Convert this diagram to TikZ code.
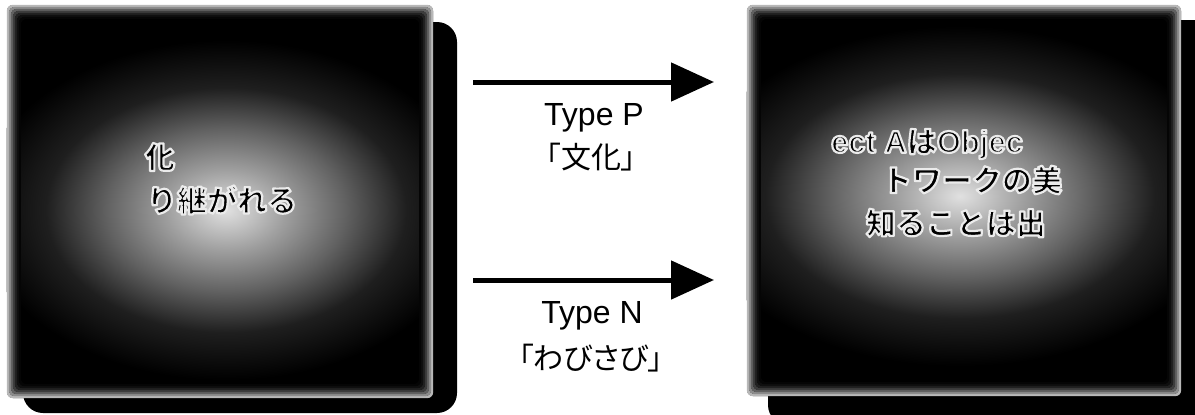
\documentclass[tikz,border=0pt]{standalone}
\usepackage{fontspec}
\setmainfont{Liberation Sans}
\newfontfamily\jp{Noto Sans CJK JP}
\newfontfamily\jpp[RawFeature=+palt]{Noto Sans CJK JP}
\usetikzlibrary{arrows.meta}

% light centre fading to black towards the rim of each panel
\pgfdeclareradialshading{boxglow}{\pgfpoint{0bp}{0bp}}{%
  color(0bp)=(white!88!black); color(6bp)=(white!62!black);
  color(12bp)=(black!62); color(18bp)=(black!88);
  color(25bp)=(black); color(50bp)=(black)}

\tikzset{
  panel/.style={fill=black, rounded corners=6pt, inner sep=0pt},
  panelshadow/.style={fill=black, rounded corners=20pt},
  paneltext/.style={font=\jp\bfseries\fontsize{30pt}{34pt}\selectfont, text=black, inner sep=0pt},
  flow/.style={line width=5pt, -{Triangle[length=43pt,width=38pt]}},
  typelabel/.style={font=\fontsize{32pt}{36pt}\selectfont, anchor=base, inner sep=0pt},
  jplabel/.style={font=\jpp\fontsize{30pt}{34pt}\selectfont, inner sep=0pt},
}

% soft grey rim around a panel node
\newcommand\panelrim[1]{%
  \foreach \d/\c in {0/28,2/45,4/62,6/76,8/87,10/94,12/98}
    \fill[black!\c, even odd rule, rounded corners=6pt]
      ([shift={(\d pt,-\d pt)}]#1.north west) rectangle ([shift={(-\d pt,\d pt)}]#1.south east)
      ([shift={(\d pt+2pt,-\d pt-2pt)}]#1.north west) rectangle ([shift={(-\d pt-2pt,\d pt+2pt)}]#1.south east);}

% dark glyphs traced with a pale outline
\newcommand\haloed[1]{\special{pdf:literal direct 2 Tr 2.2 w 1 j 0.92 0.92 0.92 RG}#1\special{pdf:literal direct 0 Tr}}
\newcommand\latinpart[1]{{\rmfamily\bfseries\fontsize{31pt}{34pt}\selectfont #1}}

\begin{document}
\begin{tikzpicture}[x=1pt, y=-1pt]
\useasboundingbox (0,0) rectangle (1195,415);
\fill[white] (0,0) rectangle (1195,415);

% drop shadows
\fill[panelshadow] (23,22) rectangle (457,413);
\fill[panelshadow] (768,20) rectangle (1215,425);

% left panel
\node[panel, minimum width=426pt, minimum height=393pt] (lbox) at (220,201.5) {};
\begin{scope}
  \clip[rounded corners=6pt] (lbox.north west) rectangle (lbox.south east);
  \fill[shading=boxglow] (226,210) ellipse [x radius=250pt, y radius=170pt];
\end{scope}
\panelrim{lbox}

% right panel
\node[panel, minimum width=434pt, minimum height=391pt] (rbox) at (964,200.5) {};
\begin{scope}
  \clip[rounded corners=6pt] (rbox.north west) rectangle (rbox.south east);
  \fill[shading=boxglow] (960,196) ellipse [x radius=270pt, y radius=170pt];
\end{scope}
\panelrim{rbox}

% panel texts
\node[paneltext] (lline2) at (160,157) {\haloed{化}};
\node[paneltext] (lline3) at (222,200) {\haloed{り継がれる}};
\node[paneltext] (rline1) at (927,144) {\haloed{\latinpart{ect A}は\latinpart{Objec}}};
\node[paneltext] (rline2) at (972,180) {\haloed{トワークの美}};
\node[paneltext] (rline3) at (956,223) {\haloed{知ることは出}};

% arrows between the panels
\coordinate (pstart) at (473,82);
\coordinate (pend) at (714,82);
\coordinate (nstart) at (473,280);
\coordinate (nend) at (714,280);
\draw[flow] (pstart) -- (pend);
\draw[flow] (nstart) -- (nend);

% arrow labels
\node[typelabel] (tp) at (594,125) {Type P};
\node[jplabel] (tpj) at (591,157) {「文化」};
\node[typelabel] (tn) at (592,323) {Type N};
\node[jplabel] (tnj) at (591,358) {「わびさび」};
\end{tikzpicture}
\end{document}
